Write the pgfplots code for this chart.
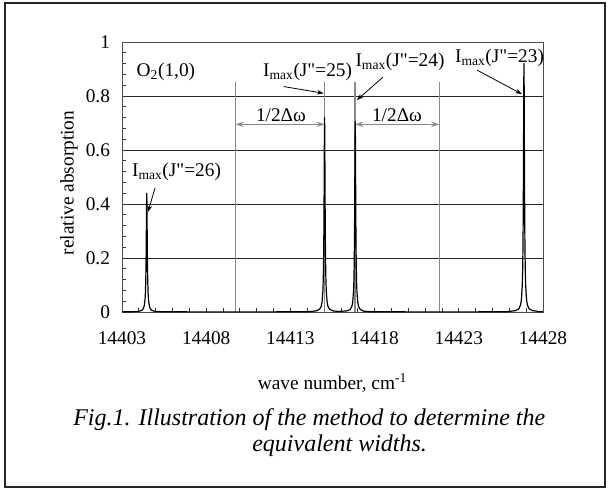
\documentclass[border=0pt]{standalone}
\usepackage{fontspec}
\setmainfont{Liberation Serif}[Ligatures=TeXOff]
\usepackage{pgfplots}
\pgfplotsset{compat=1.18}
\usetikzlibrary{arrows.meta}
\definecolor{markgray}{HTML}{8A8A8A}

\begin{document}
\begin{tikzpicture}
  % frame and caption, in pixel units of the reference
  \begin{scope}[x=0.75pt,y=0.75pt]
    \path[use as bounding box] (0,0) rectangle (608,489);
    \draw[line width=1.4pt, black!85] (5,2) rectangle (605,486);
    \node[anchor=west, inner sep=0pt, font=\fontsize{18}{21}\selectfont\itshape] at (73,69)
      {Fig.1. Illustration of the method to determine the};
    \node[anchor=west, inner sep=0pt, font=\fontsize{18}{21}\selectfont\itshape] at (252,43)
      {equivalent widths.};
  \end{scope}

  \begin{axis}[
      at={(91.5pt,132.75pt)}, anchor=south west,
      scale only axis,
      width=315.75pt, height=202.5pt,
      xmin=3, xmax=28,
      ymin=0, ymax=1,
      clip=false,
      font=\fontsize{14.5}{17}\selectfont,
      /pgf/number format/assume math mode=true,
      xtick={3,8,13,18,23,28},
      xticklabels={14403,14408,14413,14418,14423,14428},
      minor x tick num=4,
      ytick={0,0.2,0.4,0.6,0.8,1},
      yticklabels={0,0.2,0.4,0.6,0.8,1},
      minor y tick num=4,
      tick pos=left,
      tick align=inside,
      major tick length=3pt, minor tick length=3pt,
      tick style={black!80, line width=0.6pt},
      ymajorgrids=true,
      major grid style={black!85, line width=0.6pt},
      axis line style={black!70, line width=0.7pt},
      ticklabel style={font=\fontsize{14.5}{16}\selectfont},
      yticklabel style={xshift=-5.5pt},
      xticklabel style={yshift=-11pt},
      xlabel={wave number, cm\textsuperscript{-1}},
      ylabel={relative absorption},
      xlabel style={at={(axis description cs:0.5,0)}, anchor=center, yshift=-53pt},
      ylabel style={at={(axis description cs:-0.126,0.478)}, anchor=center},
    ]
    % marker lines for the half distances
    \draw[markgray, line width=1.1pt] (axis cs:9.75,0) -- (axis cs:9.75,0.853);
    \draw[markgray, line width=1.1pt] (axis cs:15.03,0) -- (axis cs:15.03,0.853);
    \draw[markgray, line width=1.1pt] (axis cs:16.85,0) -- (axis cs:16.85,0.853);
    \draw[markgray, line width=1.1pt] (axis cs:21.84,0) -- (axis cs:21.84,0.853);
    \draw[markgray, line width=0.9pt, {Stealth[length=6pt,width=4pt]}-{Stealth[length=6pt,width=4pt]}]
      (axis cs:9.75,0.695) -- (axis cs:15.03,0.695);
    \draw[markgray, line width=0.9pt, {Stealth[length=6pt,width=4pt]}-{Stealth[length=6pt,width=4pt]}]
      (axis cs:16.85,0.695) -- (axis cs:21.84,0.695);

    \addplot[black, line width=0.9pt, line join=round, mark=none] coordinates {
      (3,0.0005)
      (3.47,0.001) (3.97,0.002) (4.17,0.006) (4.27,0.013) (4.32,0.023) (4.37,0.048)
      (4.39,0.071) (4.41,0.112) (4.425,0.166) (4.44,0.254) (4.45,0.332) (4.46,0.407)
      (4.47,0.440) (4.48,0.407) (4.49,0.332) (4.50,0.254) (4.515,0.166) (4.53,0.112)
      (4.55,0.071) (4.57,0.048) (4.62,0.023) (4.67,0.013) (4.77,0.006) (4.97,0.002)
      (5.47,0.001)
      (7,0.0005) (10,0.0005) (12,0.0005)
      (14.03,0.001) (14.53,0.004) (14.73,0.010) (14.83,0.021) (14.88,0.037) (14.93,0.079)
      (14.95,0.116) (14.97,0.183) (14.985,0.271) (15.00,0.415) (15.01,0.543) (15.02,0.666)
      (15.03,0.720) (15.04,0.666) (15.05,0.543) (15.06,0.415) (15.075,0.271) (15.09,0.183)
      (15.11,0.116) (15.13,0.079) (15.18,0.037) (15.23,0.021) (15.33,0.010) (15.53,0.004)
      (15.85,0.002)
      (16.35,0.004) (16.55,0.009) (16.65,0.021) (16.70,0.036) (16.75,0.077) (16.77,0.113)
      (16.79,0.179) (16.805,0.266) (16.82,0.406) (16.83,0.531) (16.84,0.652) (16.85,0.705)
      (16.86,0.652) (16.87,0.531) (16.88,0.406) (16.895,0.266) (16.91,0.179) (16.93,0.113)
      (16.95,0.077) (17.00,0.036) (17.05,0.021) (17.15,0.009) (17.35,0.003) (17.85,0.001)
      (20,0.0005) (24,0.0005)
      (25.87,0.001) (26.37,0.005) (26.57,0.012) (26.67,0.027) (26.72,0.047) (26.77,0.100)
      (26.79,0.148) (26.81,0.234) (26.825,0.347) (26.84,0.530) (26.85,0.694) (26.86,0.851)
      (26.87,0.920) (26.88,0.851) (26.89,0.694) (26.90,0.530) (26.915,0.347) (26.93,0.234)
      (26.95,0.148) (26.97,0.100) (27.02,0.047) (27.07,0.027) (27.17,0.012) (27.37,0.005)
      (27.87,0.001) (28,0.001)
    };

    % text annotations
    \node at (axis cs:5.61,0.889) {O\textsubscript{2}(1,0)};
    \node at (axis cs:12.44,0.73) {1/2Δω};
    \node at (axis cs:19.33,0.73) {1/2Δω};
    \node at (axis cs:6.24,0.52) {I\textsubscript{max}(J"=26)};
    \node at (axis cs:14.02,0.889) {I\textsubscript{max}(J"=25)};
    \node at (axis cs:19.51,0.926) {I\textsubscript{max}(J"=24)};
    \node at (axis cs:25.42,0.941) {I\textsubscript{max}(J"=23)};
    \draw[black, line width=0.6pt, -{Stealth[length=5pt,width=3.5pt]}]
      (axis cs:4.96,0.459) -- (axis cs:4.54,0.370);
    \draw[black, line width=0.6pt, -{Stealth[length=5pt,width=3.5pt]}]
      (axis cs:12.6,0.835) -- (axis cs:14.98,0.81);
    \draw[black, line width=0.6pt, -{Stealth[length=5pt,width=3.5pt]}]
      (axis cs:18.50,0.870) -- (axis cs:16.95,0.785);
    \draw[black, line width=0.6pt, -{Stealth[length=5pt,width=3.5pt]}]
      (axis cs:24.08,0.896) -- (axis cs:26.75,0.807);
  \end{axis}
\end{tikzpicture}
\end{document}
